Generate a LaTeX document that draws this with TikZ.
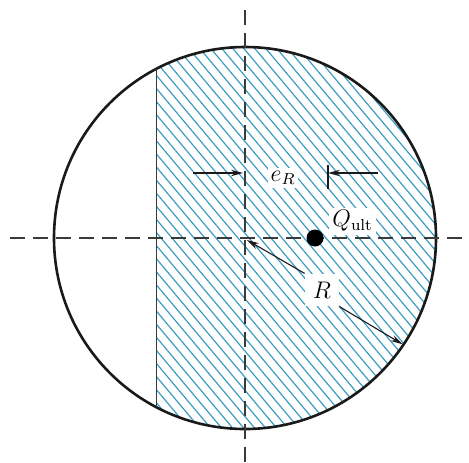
\documentclass[tikz,border=0pt]{standalone}
\usepackage{amsmath}
\usetikzlibrary{positioning,arrows.meta,calc}
\definecolor{ink}{HTML}{1A1A1A}
\definecolor{axisgrey}{HTML}{3A3A3A}
\definecolor{hatch}{HTML}{3C9DC0}

\begin{document}
\begin{tikzpicture}[
      x=0.5pt, y=0.5pt,
      rim/.style={draw=ink, line width=1.3pt},
      hatchline/.style={color=hatch, line width=0.6pt},
      axis/.style={color=axisgrey, line width=0.6pt, dash pattern=on 7.5pt off 4pt},
      dimarrow/.style={-{Stealth[length=6pt,width=3.2pt]}, line width=0.55pt, color=ink},
      lbl/.style={fill=white, inner sep=1.5pt, font=\fontsize{12}{14}\selectfont},
    ]
      \useasboundingbox (-245,-224) rectangle (224,238);

      % hatched part of the section (lines at about 50 deg)
      \begin{scope}
        \clip (0,0) circle (191);
        \clip (-89,-200) rectangle (200,200);
        \foreach \c in {-260,-249,...,360}
          \draw[hatchline] (\c-210,250) -- (\c+210,-250);
      \end{scope}

      \coordinate (o) at (0,0);
      \draw[rim] (o) circle (191);
      \draw[line width=0.5pt, color=axisgrey] (-89,-169) -- (-89,169);

      % centre lines
      \draw[axis] (-235,0) -- (224,0);
      \draw[axis] (0,228) -- (0,-224);

      % resultant
      \node[circle, fill=black, inner sep=0pt, minimum size=8.5pt] (q) at (70,0) {};
      \node[lbl, anchor=south west] (qlab) at (84,3) {$Q_{\text{ult}}$};

      % eccentricity
      \coordinate (tick) at (83,65);
      \draw[line width=0.6pt, color=ink] ($(tick)+(0,8)$) -- ($(tick)+(0,-16)$);
      \coordinate (ea) at (-52,65);
      \coordinate (eb) at (133,65);
      \draw[dimarrow] (ea) -- (-2,65);
      \draw[dimarrow] (eb) -- (tick);
      \node[lbl] (elab) at (38,60) {$e_R$};

      % radius
      \coordinate (edge) at (-34:190);
      \node[lbl, inner sep=4pt, font=\fontsize{13}{15}\selectfont] (rlab) at (77,-52) {$R$};
      \draw[dimarrow] (rlab.north west) -- (2,-2);
      \draw[dimarrow] (rlab.south east) -- (edge);

    \end{tikzpicture}
\end{document}
